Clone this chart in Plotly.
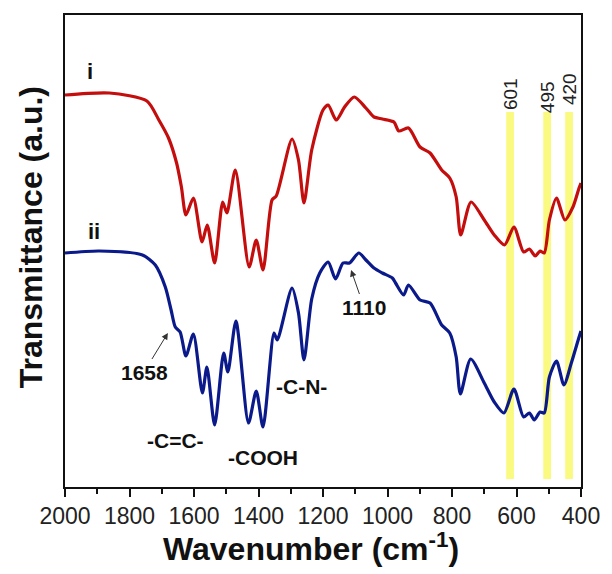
import plotly.graph_objects as go

# ---- data ----
wn_i = [2000, 1862, 1746, 1709, 1679, 1654, 1639, 1625, 1602, 1575, 1559, 1536, 1511, 1498,
        1472, 1429, 1407, 1386, 1358, 1345, 1296, 1276, 1259, 1235, 1200, 1184, 1159, 1133,
        1103, 1067, 1042, 1016, 980, 965, 935, 899, 868, 832, 807, 787, 773, 741, 700, 669,
        637, 608, 578, 560, 542, 527, 514, 498, 476, 450, 425, 406, 400]
t_i = [392, 394, 386, 367, 349, 324, 300, 272, 289, 245, 262, 224, 285, 274,
       317, 220, 247, 217, 287, 291, 348, 327, 284, 337, 377, 382, 367, 380,
       390, 379, 370, 368, 365, 356, 359, 340, 334, 317, 309, 290, 252, 285, 267, 252,
       242, 260, 235, 238, 231, 236, 234, 267, 289, 267, 280, 299, 304]

wn_ii = [2000, 1893, 1760, 1720, 1689, 1671, 1658, 1643, 1625, 1602, 1574, 1560, 1536, 1508,
         1495, 1470, 1431, 1407, 1386, 1352, 1342, 1296, 1276, 1259, 1235, 1210, 1184, 1161,
         1138, 1118, 1089, 1067, 1042, 1016, 985, 975, 950, 935, 899, 868, 832, 807, 787,
         774, 742, 700, 669, 639, 608, 578, 560, 545, 527, 514, 498, 476, 453, 430, 406, 400]
t_ii = [234, 236, 232, 222, 200, 177, 160, 155, 131, 153, 94, 120, 62, 134,
        115, 166, 64, 96, 60, 154, 147, 199, 174, 127, 188, 214, 225, 208,
        224, 224, 234, 227, 219, 214, 209, 204, 192, 202, 187, 184, 162, 154, 130,
        93, 128, 104, 85, 74, 98, 70, 74, 67, 75, 74, 110, 126, 102, 124, 150, 156]

band_centers = [620, 505, 437]
band_labels = ["601", "495", "420"]
band_label_y = [393, 390, 398]

tick_vals = [2000, 1800, 1600, 1400, 1200, 1000, 800, 600, 400]

RED = "#C40D0D"
BLUE = "#0B1A8A"
FONT = "Liberation Sans, Arial, sans-serif"

fig = go.Figure()

# yellow bands
for c in band_centers:
    fig.add_shape(type="rect", xref="x", yref="y", x0=c + 12, x1=c - 12, y0=8, y1=375,
                  fillcolor="#FAFA80", line_width=0, layer="below")

fig.add_trace(go.Scatter(x=wn_i, y=t_i, mode="lines", name="i",
                         line=dict(color=RED, width=3.2, shape="spline", smoothing=0.7)))
fig.add_trace(go.Scatter(x=wn_ii, y=t_ii, mode="lines", name="ii",
                         line=dict(color=BLUE, width=3.2, shape="spline", smoothing=0.7)))

ann = []
# curve labels
ann.append(dict(x=1924, y=416, text="<b>i</b>", showarrow=False, font=dict(size=22, color="#111", family=FONT)))
ann.append(dict(x=1911, y=256, text="<b>ii</b>", showarrow=False, font=dict(size=22, color="#111", family=FONT)))
# band labels
for c, lab, ly in zip(band_centers, band_labels, band_label_y):
    ann.append(dict(x=c, y=ly, text=lab, textangle=-90, showarrow=False,
                    font=dict(size=19, color="#222", family=FONT)))
# group labels
for x, y, t in [(1658, 47, "-C=C-"), (1385, 30, "-COOH"), (1266, 101, "-C-N-")]:
    ann.append(dict(x=x, y=y, text="<b>" + t + "</b>", showarrow=False,
                    font=dict(size=21, color="#111", family=FONT)))
# labels with arrows (label at ax/ay, arrow head at x/y)
for hx, hy, lx, ly, t in [(1681, 154, 1755, 115, "1658"), (1113, 217, 1073, 180, "1110")]:
    ann.append(dict(x=hx, y=hy, ax=lx, ay=ly, axref="x", ayref="y", xref="x", yref="y",
                    text="<b>" + t + "</b>", showarrow=True, arrowhead=2, arrowsize=1.3,
                    arrowwidth=1, arrowcolor="#333", standoff=0,
                    font=dict(size=21, color="#111", family=FONT)))
# axis titles
ann.append(dict(xref="paper", yref="paper", x=-0.067, y=0.53, text="<b>Transmittance (a.u.)</b>",
                textangle=-90, showarrow=False, xanchor="center", yanchor="middle",
                font=dict(size=32, color="#111", family=FONT)))
ann.append(dict(xref="paper", yref="paper", x=0.476, y=-0.128, text="<b>Wavenumber (cm<sup>-1</sup>)</b>",
                showarrow=False, xanchor="center", yanchor="middle",
                font=dict(size=32, color="#111", family=FONT)))

fig.update_layout(
    width=612, height=574,
    margin=dict(l=65, r=24, t=15, b=87),
    paper_bgcolor="white", plot_bgcolor="white",
    showlegend=False,
    annotations=ann,
    font=dict(family=FONT),
)
fig.update_xaxes(range=[2000, 400], tickvals=tick_vals, ticktext=[str(v) for v in tick_vals],
                 ticks="outside", ticklen=8, tickwidth=1.5, tickcolor="#111",
                 minor=dict(dtick=100, tick0=400, ticks="outside", ticklen=5, tickwidth=1.5, tickcolor="#111"),
                 showline=True, linecolor="#111", linewidth=1.5, mirror=True,
                 showgrid=False, zeroline=False,
                 tickfont=dict(size=23, color="#222", family=FONT))
fig.update_yaxes(range=[0, 472], showticklabels=False, ticks="",
                 showline=True, linecolor="#111", linewidth=1.5, mirror=True,
                 showgrid=False, zeroline=False)

fig.write_html("out.html")
